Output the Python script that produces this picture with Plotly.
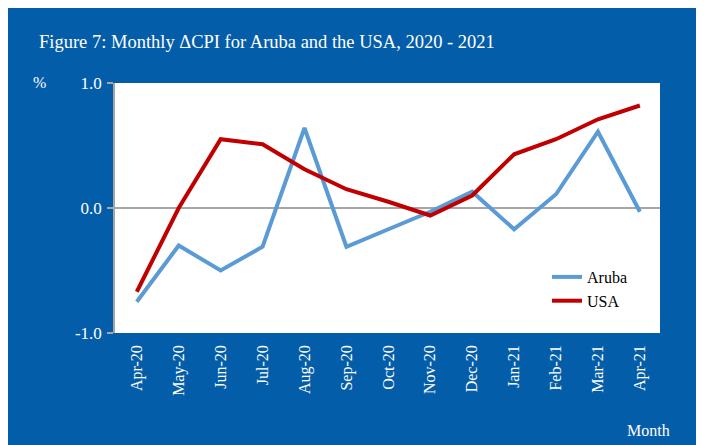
import plotly.graph_objects as go

months = ["Apr-20", "May-20", "Jun-20", "Jul-20", "Aug-20", "Sep-20", "Oct-20",
          "Nov-20", "Dec-20", "Jan-21", "Feb-21", "Mar-21", "Apr-21"]
aruba = [-0.75, -0.30, -0.50, -0.31, 0.64, -0.31, -0.17, -0.03, 0.13, -0.17, 0.11, 0.61, -0.03]
usa = [-0.67, 0.00, 0.55, 0.51, 0.31, 0.15, 0.05, -0.06, 0.10, 0.43, 0.55, 0.71, 0.82]
y_ticks = [-1.0, 0.0, 1.0]
y_labels = ["-1.0", "0.0", "1.0"]

BLUE = "#045DA9"
FONT = "Liberation Serif"

fig = go.Figure()
fig.add_trace(go.Scatter(x=months, y=aruba, mode="lines", name="Aruba",
                         line=dict(color="#5B9BD5", width=4)))
fig.add_trace(go.Scatter(x=months, y=usa, mode="lines", name="USA",
                         line=dict(color="#C00000", width=4)))

OFF = 8  # page body margin
W, H = 693, 437
L, R, T, B = 107, 41, 75, 112
pw, ph = W - L - R, H - T - B

def px_x(p):
    # p: horizontal pixel in screenshot coordinates
    return (p - OFF - L) / pw

def px_y(p):
    return (H - B - (p - OFF)) / ph

fig.update_layout(
    width=W, height=H,
    margin=dict(l=L, r=R, t=T, b=B),
    paper_bgcolor=BLUE,
    plot_bgcolor="white",
    font=dict(family=FONT, color="white", size=16),
    showlegend=True,
    legend=dict(x=px_x(547), y=px_y(289), xanchor="left", yanchor="middle",
                bgcolor="rgba(0,0,0,0)", font=dict(color="black", size=16, family=FONT),
                tracegroupgap=0),
    annotations=[
        dict(text="Figure 7: Monthly \u0394CPI for Aruba and the USA, 2020 - 2021",
             xref="paper", yref="paper", x=px_x(37), y=px_y(42), xanchor="left",
             yanchor="middle", showarrow=False, font=dict(size=18.5, color="white", family=FONT)),
        dict(text="%", xref="paper", yref="paper", x=px_x(39), y=px_y(82),
             xanchor="center", yanchor="middle", showarrow=False,
             font=dict(size=16, color="white", family=FONT)),
        dict(text="Month", xref="paper", yref="paper", x=px_x(648), y=px_y(430),
             xanchor="center", yanchor="middle", showarrow=False,
             font=dict(size=16, color="white", family=FONT)),
    ],
)

fig.update_xaxes(type="category", range=[-0.52, 12.48], showgrid=False, zeroline=False,
                 showline=False, ticks="", tickangle=-90, ticklabelstandoff=8,
                 tickfont=dict(size=16, color="white", family=FONT))
fig.update_yaxes(range=[-1.0, 1.0], tickvals=y_ticks, ticktext=y_labels,
                 showgrid=True, gridcolor="#A6A6A6", gridwidth=1.5, zeroline=False,
                 showline=True, linecolor="#A6A6A6", linewidth=1.5,
                 ticks="outside", ticklen=6, tickcolor="#A6A6A6", tickwidth=1.5,
                 ticklabelstandoff=2,
                 tickfont=dict(size=17, color="white", family=FONT))

fig.write_html("out.html")
